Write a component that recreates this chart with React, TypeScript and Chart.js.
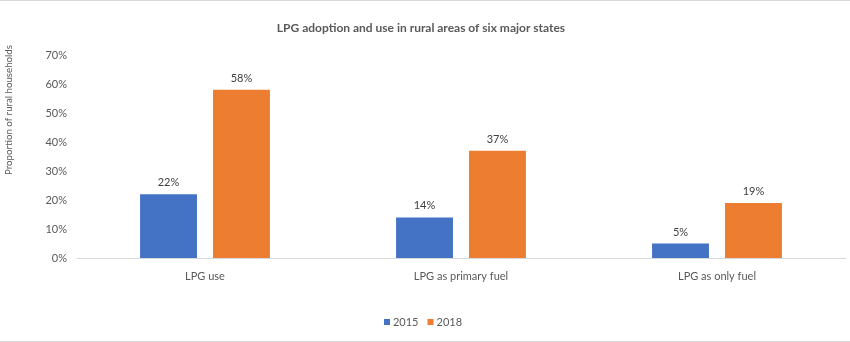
import React, { useEffect, useRef } from "react";
import { Chart, registerables } from "chart.js";

Chart.register(...registerables);

const categories = ["LPG use", "LPG as primary fuel", "LPG as only fuel"];
const series2015 = [22, 14, 5];
const series2018 = [58, 37, 19];
const seriesNames = ["2015", "2018"];
const yTicksMax = 70;
const titleText = "LPG adoption and use in rural areas of six major states";
const yTitleText = "Proportion of rural households";

const FONT = "Lato, 'Open Sans', sans-serif";
const BLUE = "#4472C4";
const ORANGE = "#ED7D31";

const decorPlugin = {
  id: "decor",
  beforeDraw(chart: any) {
    const { ctx, width, height } = chart;
    ctx.save();
    ctx.fillStyle = "#ffffff";
    ctx.fillRect(0, 0, width, height);
    ctx.strokeStyle = "#d9d9d9";
    ctx.lineWidth = 1;
    ctx.beginPath();
    ctx.moveTo(0, 0.5);
    ctx.lineTo(width, 0.5);
    ctx.moveTo(0, height - 0.5);
    ctx.lineTo(width, height - 0.5);
    ctx.stroke();
    ctx.restore();
  },
  afterDraw(chart: any) {
    const { ctx } = chart;
    ctx.save();
    // title
    ctx.fillStyle = "#595959";
    ctx.font = `bold 12px ${FONT}`;
    ctx.textAlign = "center";
    ctx.textBaseline = "middle";
    ctx.fillText(titleText, 421, 28);
    // y title
    ctx.save();
    ctx.translate(9, 110);
    ctx.rotate(-Math.PI / 2);
    ctx.font = `9.7px ${FONT}`;
    ctx.fillText(yTitleText, 0, 0);
    ctx.restore();
    // data labels
    ctx.font = `11px ${FONT}`;
    ctx.fillStyle = "#404040";
    ctx.textBaseline = "bottom";
    chart.data.datasets.forEach((ds: any, di: number) => {
      const meta = chart.getDatasetMeta(di);
      meta.data.forEach((bar: any, i: number) => {
        ctx.fillText(ds.data[i] + "%", bar.x, bar.y - 6);
      });
    });
    // legend
    const colors = [BLUE, ORANGE];
    ctx.font = `11px ${FONT}`;
    ctx.textAlign = "left";
    ctx.textBaseline = "middle";
    const box = 6;
    const gap = 3;
    const itemGap = 9;
    const widths = seriesNames.map((n) => box + gap + ctx.measureText(n).width);
    const total = widths.reduce((a, b) => a + b, 0) + itemGap * (seriesNames.length - 1);
    let x = 423 - total / 2;
    const y = 322;
    seriesNames.forEach((n, i) => {
      ctx.fillStyle = colors[i];
      ctx.fillRect(x, y - box / 2, box, box);
      ctx.fillStyle = "#595959";
      ctx.fillText(n, x + box + gap, y);
      x += widths[i] + itemGap;
    });
    ctx.restore();
  },
};

export default function App() {
  const ref = useRef<HTMLCanvasElement | null>(null);
  useEffect(() => {
    if (!ref.current) return;
    const chart = new Chart(ref.current, {
      type: "bar",
      data: {
        labels: categories,
        datasets: [
          { label: seriesNames[0], data: series2015, backgroundColor: BLUE, categoryPercentage: 0.57, barPercentage: 0.78 },
          { label: seriesNames[1], data: series2018, backgroundColor: ORANGE, categoryPercentage: 0.57, barPercentage: 0.78 },
        ],
      },
      options: {
        responsive: false,
        animation: false,
        layout: { padding: { left: 0, right: 5, top: 55, bottom: 44 } },
        plugins: { legend: { display: false }, title: { display: false }, tooltip: { enabled: false } },
        scales: {
          x: {
            grid: { display: false, drawTicks: false },
            border: { display: true, color: "#d9d9d9", width: 1 },
            ticks: { color: "#595959", font: { family: FONT, size: 11 }, padding: 12, maxRotation: 0 },
            afterFit: (s: any) => { s.height = 40; },
          },
          y: {
            min: 0,
            max: yTicksMax,
            grid: { display: false, drawTicks: false },
            border: { display: false },
            ticks: {
              stepSize: 10,
              color: "#595959",
              font: { family: FONT, size: 11 },
              padding: 10,
              callback: (v: any) => v + "%",
            },
            afterFit: (s: any) => { s.width = 77; },
          },
        },
      },
      plugins: [decorPlugin],
    });
    return () => chart.destroy();
  }, []);
  return (
    <div style={{ position: "fixed", left: 0, top: 0, width: 850, height: 342, background: "#fff" }}>
      <canvas ref={ref} width={850} height={342} style={{ display: "block", width: 850, height: 342 }} />
    </div>
  );
}
